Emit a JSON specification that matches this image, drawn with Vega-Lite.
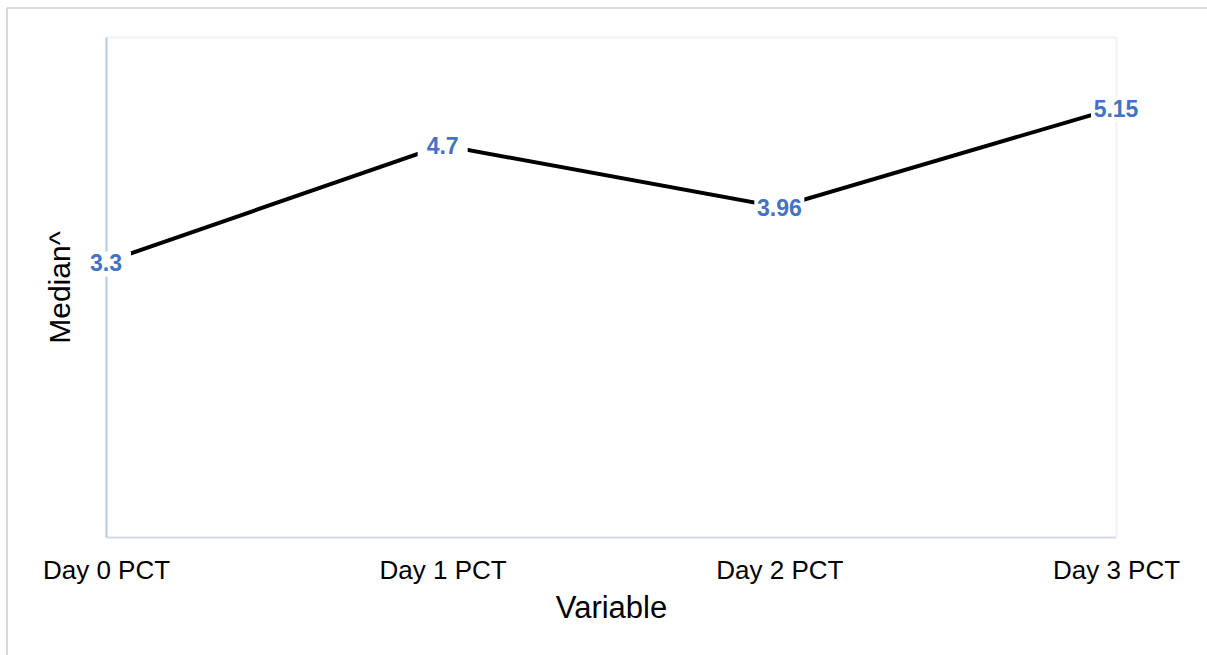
{
  "$schema": "https://vega.github.io/schema/vega-lite/v6.json",
  "width": 1200,
  "height": 647,
  "autosize": {"type": "none"},
  "padding": {"left": 7, "top": 8, "right": 0, "bottom": 0},
  "background": "white",
  "config": {
    "view": {"stroke": "#d9d9d9", "strokeWidth": 2, "strokeDash": [1200, 1847, 647, 0]},
    "font": "Liberation Sans"
  },
  "data": {
    "values": [
      {"Variable": "Day 0 PCT", "Median": 3.3},
      {"Variable": "Day 1 PCT", "Median": 4.7},
      {"Variable": "Day 2 PCT", "Median": 3.96},
      {"Variable": "Day 3 PCT", "Median": 5.15}
    ]
  },
  "resolve": {"axis": {"x": "independent", "y": "independent"}},
  "layer": [
    {
      "mark": {"type": "line", "color": "black", "strokeWidth": 4},
      "encoding": {
        "x": {
          "field": "Variable", "type": "ordinal",
          "scale": {"type": "point", "range": [99, 1109], "padding": 0},
          "axis": {
            "orient": "bottom", "offset": -118, "labelAngle": 0,
            "domainColor": "#d3d9e6", "domainWidth": 2, "ticks": false,
            "labelFontSize": 26, "labelColor": "black", "labelPadding": 20,
            "labelFont": "Liberation Sans",
            "title": "Variable", "titleFontSize": 31, "titleFontWeight": "normal",
            "titleColor": "black", "titlePadding": 10, "titleFont": "Liberation Sans"
          }
        },
        "y": {
          "field": "Median", "type": "quantitative",
          "scale": {"domain": [0, 6], "range": [529, 29], "nice": false, "zero": false},
          "axis": {
            "orient": "left", "offset": -99, "grid": false, "labels": false, "ticks": false,
            "domainColor": "#b4c7e7", "domainWidth": 2,
            "title": "Median^", "titleFontSize": 30, "titleFontWeight": "normal",
            "titleColor": "black", "titlePadding": 31, "titleFont": "Liberation Sans"
          }
        }
      }
    },
    {
      "mark": {"type": "point", "shape": "M-1,-0.5H1V0.5H-1Z", "size": 2500, "filled": true, "color": "white", "opacity": 1, "strokeWidth": 0, "yOffset": 2},
      "encoding": {
        "x": {
          "field": "Variable", "type": "ordinal",
          "axis": {"orient": "top", "offset": -29, "labels": false, "ticks": false, "title": null,
                   "domainColor": "#eef1f8", "domainWidth": 2}
        },
        "y": {
          "field": "Median", "type": "quantitative",
          "axis": {"orient": "right", "offset": -91, "labels": false, "ticks": false, "grid": false, "title": null,
                   "domainColor": "#eef1f8", "domainWidth": 2}
        }
      }
    },
    {
      "mark": {"type": "text", "fontSize": 23, "fontWeight": "bold", "color": "#4472c4", "baseline": "middle", "align": "center", "dy": 2},
      "encoding": {
        "x": {"field": "Variable", "type": "ordinal", "axis": null},
        "y": {"field": "Median", "type": "quantitative", "axis": null},
        "text": {"field": "Median", "type": "quantitative"}
      }
    }
  ]
}
